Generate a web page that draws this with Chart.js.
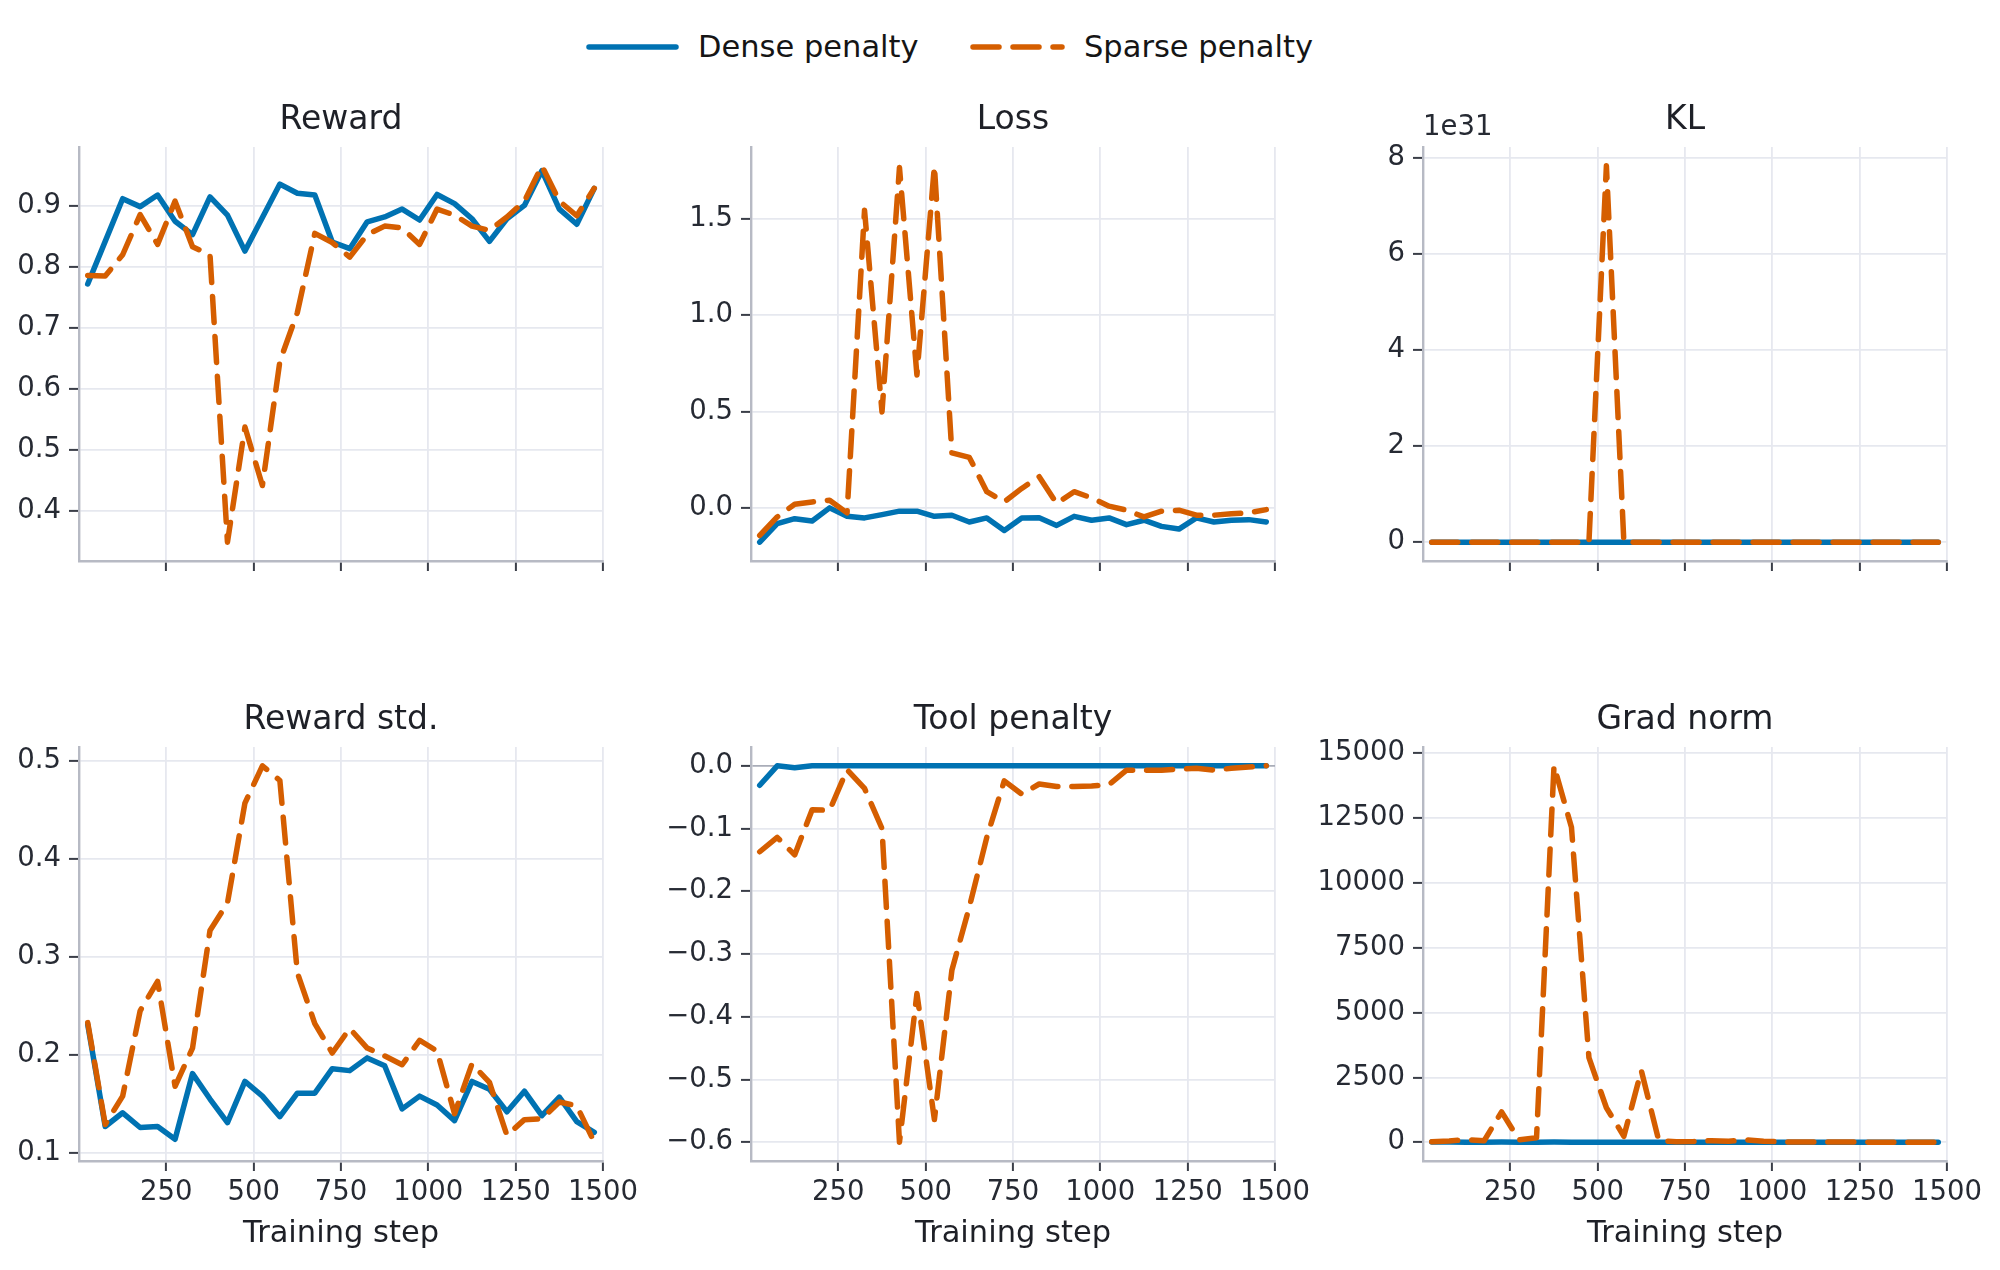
<!DOCTYPE html>
<html lang="en">
<head>
  <meta charset="UTF-8">
  <title>Dense vs sparse penalty</title>
  <script src="https://cdn.jsdelivr.net/npm/chart.js"></script>
  <style>
    body {
      margin: 0;
      background: #fff;
      font-family: 'DejaVu Sans', sans-serif;
    }
    #fig {
      position: relative;
      width: 2000px;
      height: 1270px;
      overflow: hidden;
      background: #fff;
    }
    #fig canvas, #fig svg, .legtext {
      position: absolute;
    }
    .legtext {
      top: 29px;
      font-size: 30.5px;
      line-height: 36px;
      color: #151515;
      white-space: nowrap;
    }
  </style>
</head>
<body>
  <div id="fig">
    <svg style="left:586px; top:41px" width="94" height="12">
      <line x1="3" y1="6" x2="90" y2="6" stroke="#0072b2" stroke-width="5.5" stroke-linecap="round"/>
    </svg>
    <div class="legtext" style="left:698px">Dense penalty</div>
    <svg style="left:970px; top:41px" width="96" height="12">
      <line x1="3" y1="6" x2="92" y2="6" stroke="#d55e00" stroke-width="5.5" stroke-linecap="round" stroke-dasharray="26 14"/>
    </svg>
    <div class="legtext" style="left:1084px">Sparse penalty</div>

    <canvas id="reward"></canvas>
    <canvas id="loss"></canvas>
    <canvas id="kl"></canvas>
    <canvas id="rewardStd"></canvas>
    <canvas id="tool"></canvas>
    <canvas id="grad"></canvas>
  </div>

  <script>
    // training steps (x values, shared by every panel)
    const steps = [25, 75, 125, 175, 225, 275, 325, 375, 425, 475, 525, 575, 625, 675, 725,
                   775, 825, 875, 925, 975, 1025, 1075, 1125, 1175, 1225, 1275, 1325, 1375, 1425, 1475];
    const stepTicks = [250, 500, 750, 1000, 1250, 1500];

    const rewardDense = [0.772, 0.842, 0.912, 0.899, 0.918, 0.875, 0.853, 0.915, 0.885, 0.826,
                         0.881, 0.936, 0.921, 0.918, 0.841, 0.830, 0.874, 0.882, 0.895, 0.877,
                         0.919, 0.904, 0.879, 0.842, 0.879, 0.901, 0.958, 0.895, 0.870, 0.929];
    const rewardSparse = [0.786, 0.785, 0.820, 0.886, 0.837, 0.908, 0.833, 0.820, 0.348, 0.537,
                          0.441, 0.645, 0.725, 0.855, 0.840, 0.816, 0.853, 0.867, 0.864, 0.837,
                          0.895, 0.885, 0.867, 0.860, 0.882, 0.908, 0.966, 0.908, 0.884, 0.929];
    const rewardTicks = [0.4, 0.5, 0.6, 0.7, 0.8, 0.9];

    const lossDense = [-0.178, -0.082, -0.056, -0.068, 0.000, -0.044, -0.052, -0.035, -0.017, -0.017,
                       -0.044, -0.038, -0.073, -0.052, -0.117, -0.052, -0.051, -0.091, -0.044, -0.064,
                       -0.052, -0.087, -0.064, -0.096, -0.110, -0.052, -0.073, -0.064, -0.061, -0.073];
    const lossSparse = [-0.143, -0.047, 0.019, 0.031, 0.040, -0.026, 1.545, 0.498, 1.766, 0.690,
                        1.775, 0.285, 0.262, 0.084, 0.031, 0.101, 0.162, 0.023, 0.084, 0.052,
                        0.009, -0.012, -0.047, -0.017, -0.012, -0.038, -0.038, -0.030, -0.026, -0.009];
    const lossTicks = [0.0, 0.5, 1.0, 1.5];

    const klDense = [0, 0, 0, 0, 0, 0, 0, 0, 0, 0, 0, 0, 0, 0, 0,
                     0, 0, 0, 0, 0, 0, 0, 0, 0, 0, 0, 0, 0, 0, 0];
    const klSparse = [0, 0, 0, 0, 0, 0, 0, 0, 0, 0, 7.83e31, 0, 0, 0, 0,
                      0, 0, 0, 0, 0, 0, 0, 0, 0, 0, 0, 0, 0, 0, 0];
    const klTicks = [0, 2e31, 4e31, 6e31, 8e31];

    const stdDense = [0.231, 0.127, 0.141, 0.126, 0.127, 0.114, 0.181, 0.155, 0.131, 0.173,
                      0.158, 0.137, 0.161, 0.161, 0.186, 0.184, 0.197, 0.189, 0.145, 0.158,
                      0.149, 0.133, 0.173, 0.165, 0.142, 0.163, 0.138, 0.157, 0.132, 0.121];
    const stdSparse = [0.233, 0.129, 0.158, 0.245, 0.275, 0.168, 0.207, 0.327, 0.355, 0.457,
                       0.495, 0.480, 0.284, 0.232, 0.202, 0.227, 0.207, 0.199, 0.190, 0.215,
                       0.204, 0.140, 0.191, 0.172, 0.118, 0.134, 0.135, 0.152, 0.148, 0.111];
    const stdTicks = [0.1, 0.2, 0.3, 0.4, 0.5];

    const toolDense = [-0.031, 0.000, -0.003, 0.000, 0.000, 0.000, 0.000, 0.000, 0.000, 0.000,
                       0.000, 0.000, 0.000, 0.000, 0.000, 0.000, 0.000, 0.000, 0.000, 0.000,
                       0.000, 0.000, 0.000, 0.000, 0.000, 0.000, 0.000, 0.000, 0.000, 0.000];
    const toolSparse = [-0.137, -0.114, -0.142, -0.070, -0.071, -0.006, -0.036, -0.100, -0.600, -0.363,
                        -0.564, -0.326, -0.225, -0.114, -0.024, -0.045, -0.029, -0.033, -0.033, -0.032,
                        -0.030, -0.007, -0.007, -0.007, -0.005, -0.004, -0.007, -0.004, -0.002, 0.000];
    const toolTicks = [-0.6, -0.5, -0.4, -0.3, -0.2, -0.1, 0.0];

    const gradDense = [8, 6, 5, 5, 6, 5, 5, 6, 5, 5, 5, 4, 4, 4, 4,
                       4, 4, 4, 3, 3, 3, 3, 3, 3, 3, 3, 3, 3, 3, 3];
    const gradSparse = [20, 50, 100, 60, 1170, 90, 170, 14510, 12140, 3260, 1330, 230, 2760, 60, 20,
                        30, 60, 40, 90, 40, 15, 10, 10, 8, 8, 5, 5, 5, 5, 5];
    const gradTicks = [0, 2500, 5000, 7500, 10000, 12500, 15000];

    const BLUE = '#0072b2';
    const ORANGE = '#d55e00';
    const GRID = '#e6e8ef';
    const SPINE = '#b7bac4';
    const TICKCOL = '#3a3e48';
    const TEXT = '#262a33';
    const FONT = "'DejaVu Sans', sans-serif";
    const LINE_W = 5.5;

    const PLOT_W = 524;
    const X_AXIS_H = 96;

    // draws the "1e31" offset text above the KL axis
    const offsetText = {
      id: 'offsetText',
      afterDraw(chart, args, opts) {
        if (!opts.text) return;
        const ctx = chart.ctx;
        ctx.save();
        ctx.font = '27.5px ' + FONT;
        ctx.fillStyle = TEXT;
        ctx.textBaseline = 'middle';
        ctx.textAlign = 'left';
        ctx.fillText(opts.text, chart.chartArea.left, chart.chartArea.top - 19.5);
        ctx.restore();
      }
    };

    function padRange(a, b) {
      const all = a.concat(b);
      const lo = Math.min(...all), hi = Math.max(...all);
      const m = (hi - lo) * 0.05;
      return [lo - m, hi + m];
    }

    function makePanel(id, cfg) {
      const canvas = document.getElementById(id);
      const yW = cfg.yAxisWidth;
      canvas.width = yW + PLOT_W + 40;
      canvas.height = 578;
      canvas.style.left = (cfg.spineX - yW) + 'px';
      canvas.style.top = cfg.top + 'px';

      const range = padRange(cfg.dense, cfg.sparse);

      new Chart(canvas.getContext('2d'), {
        type: 'line',
        data: {
          datasets: [
            {
              label: 'Sparse penalty',
              data: steps.map((s, i) => ({x: s, y: cfg.sparse[i]})),
              borderColor: ORANGE,
              borderWidth: LINE_W,
              borderDash: [26, 14],
              borderCapStyle: 'round',
              borderJoinStyle: 'round',
              pointRadius: 0,
              tension: 0,
              order: 0
            },
            {
              label: 'Dense penalty',
              data: steps.map((s, i) => ({x: s, y: cfg.dense[i]})),
              borderColor: BLUE,
              borderWidth: LINE_W,
              borderCapStyle: 'round',
              borderJoinStyle: 'round',
              pointRadius: 0,
              tension: 0,
              order: 1
            }
          ]
        },
        options: {
          responsive: false,
          animation: false,
          devicePixelRatio: 1,
          layout: { padding: { left: 0, right: 40, top: 0, bottom: 10 } },
          plugins: {
            legend: { display: false },
            tooltip: { enabled: false },
            title: {
              display: true,
              text: cfg.title,
              fullSize: false,
              color: '#1e2027',
              font: { family: FONT, size: 33, weight: 'normal' },
              padding: { top: 12, bottom: 6.4 }
            },
            offsetText: { text: cfg.offset || '' }
          },
          scales: {
            x: {
              type: 'linear',
              min: 0,
              max: 1500,
              afterBuildTicks: axis => { axis.ticks = stepTicks.map(v => ({value: v})); },
              afterFit: axis => { axis.height = X_AXIS_H; },
              grid: { color: GRID, lineWidth: 1.8, tickColor: TICKCOL, tickLength: 10, tickWidth: 2 },
              border: { display: true, color: SPINE, width: 2.4 },
              ticks: {
                display: cfg.bottomRow,
                autoSkip: false,
                maxRotation: 0,
                color: TEXT,
                padding: 5,
                font: { family: FONT, size: 27.5 },
                callback: v => String(v)
              },
              title: {
                display: cfg.bottomRow,
                text: 'Training step',
                color: '#1e2027',
                font: { family: FONT, size: 30.5 },
                padding: { top: 0, bottom: 5 }
              }
            },
            y: {
              type: 'linear',
              min: range[0],
              max: range[1],
              afterBuildTicks: axis => { axis.ticks = cfg.yTicks.map(v => ({value: v})); },
              afterFit: axis => { axis.width = yW; },
              grid: {
                color: c => (cfg.zeroLine && c.tick && c.tick.value === 0) ? '#a9adb8' : GRID,
                lineWidth: 1.8,
                tickColor: TICKCOL,
                tickLength: 10,
                tickWidth: 2
              },
              border: { display: true, color: SPINE, width: 2.4 },
              ticks: {
                color: TEXT,
                padding: 8,
                font: { family: FONT, size: 27.5 },
                callback: v => cfg.fmt(v)
              }
            }
          }
        },
        plugins: [offsetText]
      });
    }

    const oneDecimal = v => v.toFixed(1).replace('-', '\u2212');

    makePanel('reward', {
      title: 'Reward', dense: rewardDense, sparse: rewardSparse, yTicks: rewardTicks,
      fmt: oneDecimal, spineX: 79, yAxisWidth: 79, top: 89, bottomRow: false
    });
    makePanel('loss', {
      title: 'Loss', dense: lossDense, sparse: lossSparse, yTicks: lossTicks,
      fmt: oneDecimal, spineX: 751, yAxisWidth: 100, top: 89, bottomRow: false
    });
    makePanel('kl', {
      title: 'KL', dense: klDense, sparse: klSparse, yTicks: klTicks,
      fmt: v => String(Math.round(v / 1e31)), spineX: 1423, yAxisWidth: 115, top: 89,
      bottomRow: false, offset: '1e31'
    });
    makePanel('rewardStd', {
      title: 'Reward std.', dense: stdDense, sparse: stdSparse, yTicks: stdTicks,
      fmt: oneDecimal, spineX: 79, yAxisWidth: 79, top: 689, bottomRow: true
    });
    makePanel('tool', {
      title: 'Tool penalty', dense: toolDense, sparse: toolSparse, yTicks: toolTicks,
      fmt: oneDecimal, spineX: 751, yAxisWidth: 100, top: 689, bottomRow: true, zeroLine: true
    });
    makePanel('grad', {
      title: 'Grad norm', dense: gradDense, sparse: gradSparse, yTicks: gradTicks,
      fmt: v => String(Math.round(v)), spineX: 1423, yAxisWidth: 115, top: 689, bottomRow: true
    });
  </script>
</body>
</html>
